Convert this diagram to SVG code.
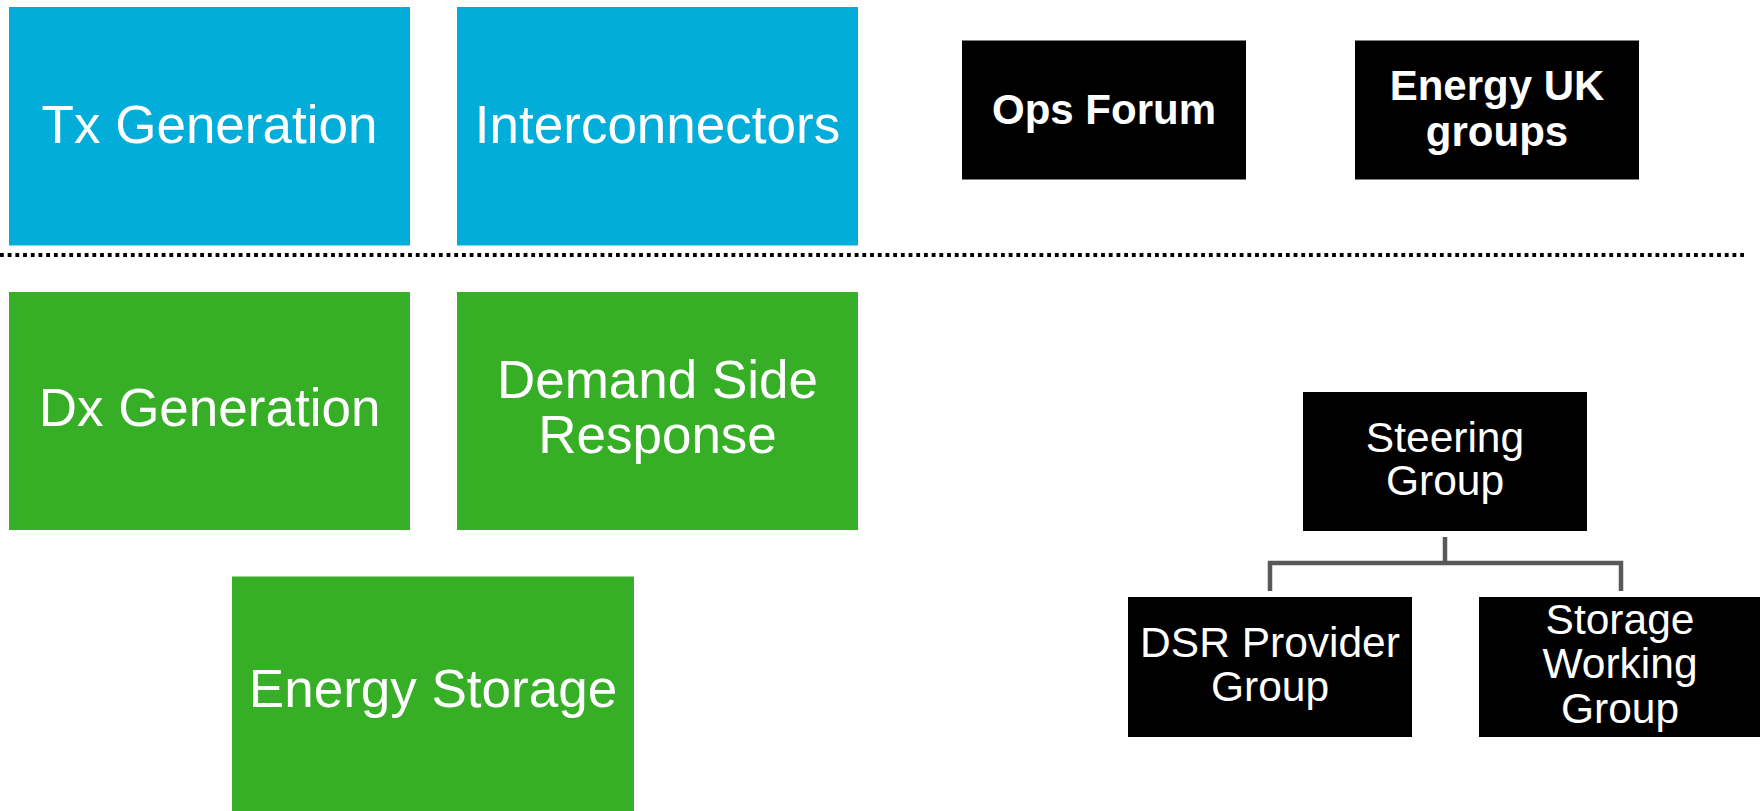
<svg xmlns="http://www.w3.org/2000/svg" width="1760" height="811" viewBox="0 0 1760 811">
<style>
.blue{fill:#02AED9}
.green{fill:#36AF27}
.blk{fill:#000}
.t{font-family:"Liberation Sans",Arial,sans-serif;fill:#fff;text-anchor:middle}
.big{font-size:53px}
.bold{font-size:42px;font-weight:bold}
.mid{font-size:42.5px}
.conn{fill:none;stroke:#595959;stroke-width:4.5}
</style>
<rect width="1760" height="811" fill="#fff"/>
<line x1="0" y1="255" x2="1746" y2="255" stroke="#000" stroke-width="4" stroke-dasharray="3.8 3.9"/>
<g id="tx-generation"><rect class="blue" x="9" y="7" width="401" height="238.5"/><text class="t big" x="209.5" y="143">Tx Generation</text></g>
<g id="interconnectors"><rect class="blue" x="457" y="7" width="401" height="238.5"/><text class="t big" x="657.5" y="143">Interconnectors</text></g>
<g id="ops-forum"><rect class="blk" x="962" y="40.5" width="284" height="139"/><text class="t bold" x="1104" y="124">Ops Forum</text></g>
<g id="energy-uk-groups"><rect class="blk" x="1355" y="40.5" width="284" height="139"/><text class="t bold" x="1497" y="100">Energy UK</text><text class="t bold" x="1497" y="146">groups</text></g>
<g id="dx-generation"><rect class="green" x="9" y="292" width="401" height="238"/><text class="t big" x="209.5" y="426">Dx Generation</text></g>
<g id="demand-side-response"><rect class="green" x="457" y="292" width="401" height="238"/><text class="t big" x="657.5" y="398">Demand Side</text><text class="t big" x="657.5" y="453">Response</text></g>
<g id="energy-storage"><rect class="green" x="232" y="576.5" width="402" height="234.5"/><text class="t big" x="433" y="707">Energy Storage</text></g>
<g id="steering-group"><rect class="blk" x="1303" y="392" width="284" height="139"/><text class="t mid" x="1445" y="452">Steering</text><text class="t mid" x="1445" y="495">Group</text></g>
<g id="dsr-provider-group"><rect class="blk" x="1128" y="597" width="284" height="140"/><text class="t mid" x="1270" y="657">DSR Provider</text><text class="t mid" x="1270" y="701">Group</text></g>
<g id="storage-working-group"><rect class="blk" x="1479" y="597" width="281" height="140"/><text class="t mid" x="1620" y="634">Storage</text><text class="t mid" x="1620" y="678">Working</text><text class="t mid" x="1620" y="723">Group</text></g>
<g id="connectors">
<path class="conn" d="M1445 537 V563"/>
<path class="conn" d="M1270 591 V563 H1621 V591"/>
</g>
</svg>
